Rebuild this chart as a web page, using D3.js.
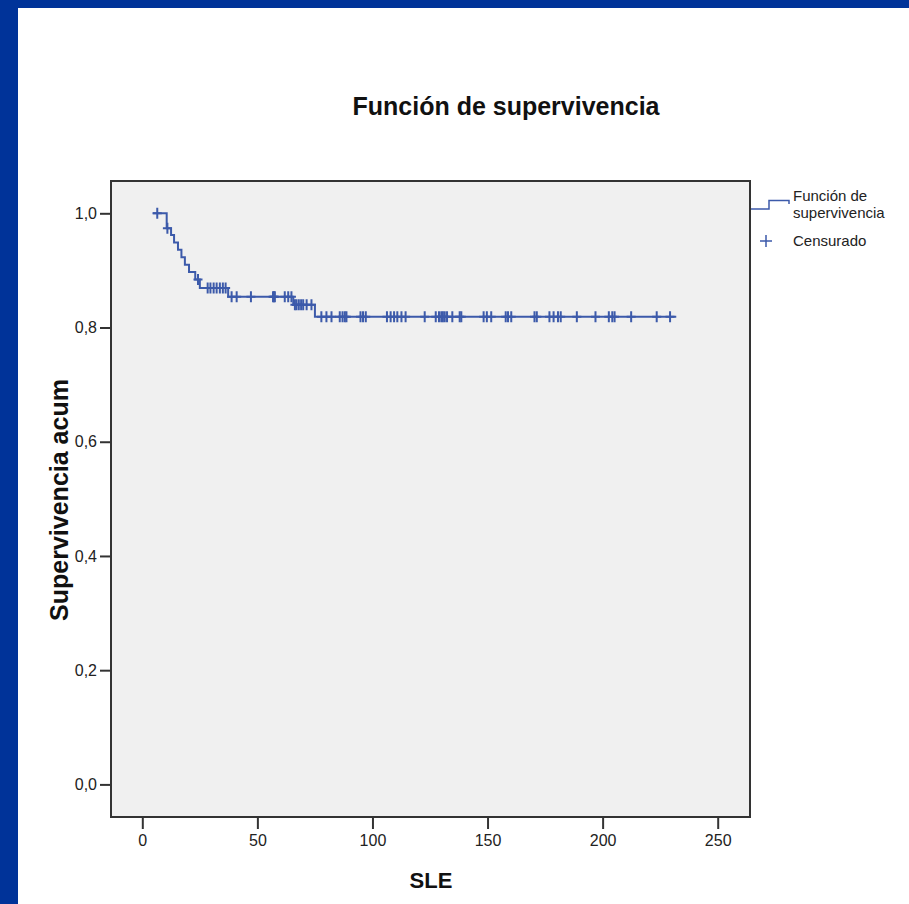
<!DOCTYPE html>
<html>
<head>
<meta charset="utf-8">
<script src="https://cdn.jsdelivr.net/npm/d3@7"></script>
<style>
  html, body { margin: 0; padding: 0; background: #fff; }
  svg { display: block; }
</style>
</head>
<body>
<svg width="909" height="904"></svg>
<script>
var width = 909;
var height = 904;

// ---------------------------------------------------------------------------
// data
// ---------------------------------------------------------------------------
var xTicks = [0, 50, 100, 150, 200, 250];
var yTicks = [0, 0.2, 0.4, 0.6, 0.8, 1.0];

var startTime = 4.5;
var endTime = 232;
var eventTime = [10.6, 12.5, 13.8, 15.5, 17.0, 18.5, 20.3, 23.0, 25.0, 37.3, 65.6, 75.0];
var eventSurv = [0.974, 0.962, 0.949, 0.936, 0.923, 0.910, 0.897, 0.884, 0.869, 0.854, 0.840, 0.819];
var censorTime = [6.5, 10.9, 24.2,
    28.4, 29.6, 31.0, 32.3, 33.7, 35.0, 36.2,
    38.8, 41.0, 47.2, 56.8, 57.2, 57.6, 61.9, 63.4, 64.8,
    66.3, 67.0, 68.0, 69.0, 69.9, 71.4, 73.5,
    77.8, 80.0, 82.2, 85.8, 87.0, 88.0, 88.7, 94.8, 95.9, 97.1,
    106.3, 107.9, 109.4, 110.8, 112.6, 114.4, 122.7, 127.5, 128.9, 129.9,
    130.6, 131.4, 132.4, 134.7, 137.9, 138.6, 148.3, 149.7, 151.6, 157.9,
    158.9, 160.3, 170.4, 171.4, 176.9, 178.7, 180.6, 181.8, 188.8, 196.9,
    202.7, 204.2, 205.2, 212.4, 223.5, 229.3];

var titleText = "Función de supervivencia";
var xLabel = "SLE";
var yLabel = "Supervivencia acum";
var legendLine = ["Función de", "supervivencia"];
var legendCensor = "Censurado";

var blue = "#3c5aaa";
var frame = { left: 111, right: 750, top: 181, bottom: 817 };
var font = "'Liberation Sans', Arial, sans-serif";

var svg = d3.select("svg");

// blue slide border
svg.append("rect").attr("x", 0).attr("y", 0).attr("width", width).attr("height", 8).attr("fill", "#003399");
svg.append("rect").attr("x", 0).attr("y", 0).attr("width", 18).attr("height", height).attr("fill", "#003399");

//----------------------------------------------------------------------------
// scales
//----------------------------------------------------------------------------
var x = d3.scaleLinear().domain([0, 250]).range([142.3, 717.7]);
var y = d3.scaleLinear().domain([0, 1]).range([784.4, 213.3]);

function survAt(t) {
    var i = d3.bisectRight(eventTime, t);
    return i === 0 ? 1 : eventSurv[i - 1];
}

// plot area
svg.append("rect")
    .attr("x", frame.left).attr("y", frame.top)
    .attr("width", frame.right - frame.left)
    .attr("height", frame.bottom - frame.top)
    .attr("fill", "#f0f0f0")
    .attr("stroke", "#333")
    .attr("stroke-width", 2);

// axes
var xAxis = d3.axisBottom(x).tickValues(xTicks).tickSize(11).tickSizeOuter(0).tickPadding(6)
    .tickFormat(d3.format("d"));
var gx = svg.append("g").attr("transform", "translate(0," + (frame.bottom + 1) + ")").call(xAxis);
gx.select(".domain").remove();

var yAxis = d3.axisLeft(y).tickValues(yTicks).tickSize(10).tickSizeOuter(0).tickPadding(3)
    .tickFormat(function(d) { return d3.format(".1f")(d).replace(".", ","); });
var gy = svg.append("g").attr("transform", "translate(" + (frame.left - 1) + ",0)").call(yAxis);
gy.select(".domain").remove();

[gx, gy].forEach(function(g) {
    g.selectAll("line").attr("stroke", "#333").attr("stroke-width", 2);
    g.selectAll("text").attr("fill", "#222")
        .style("font-family", font)
        .style("font-size", "16px");
});

//----------------------------------------------------------------------------
// survival curve
//----------------------------------------------------------------------------
var pts = [[startTime, 1]];
eventTime.forEach(function(t, i) { pts.push([t, eventSurv[i]]); });
pts.push([endTime, eventSurv[eventSurv.length - 1]]);

var line = d3.line()
    .x(function(d) { return x(d[0]); })
    .y(function(d) { return y(d[1]); })
    .curve(d3.curveStepAfter);

svg.append("path")
    .datum(pts)
    .attr("d", line)
    .attr("fill", "none")
    .attr("stroke", blue)
    .attr("stroke-width", 2);

svg.append("g").selectAll("path")
    .data(censorTime)
    .enter().append("path")
    .attr("transform", function(t) { return "translate(" + x(t) + "," + y(survAt(t)) + ")"; })
    .attr("d", "M-4.5,0H4.5M0,-5.5V5.5")
    .attr("stroke", blue)
    .attr("stroke-width", 2)
    .attr("fill", "none");

//----------------------------------------------------------------------------
// texts
//----------------------------------------------------------------------------
svg.append("text")
    .attr("x", 506).attr("y", 115)
    .attr("text-anchor", "middle")
    .style("font-family", font).style("font-size", "25px").style("font-weight", "bold")
    .attr("fill", "#111")
    .text(titleText);

svg.append("text")
    .attr("x", 431).attr("y", 888)
    .attr("text-anchor", "middle")
    .style("font-family", font).style("font-size", "22px").style("font-weight", "bold")
    .attr("fill", "#111")
    .text(xLabel);

svg.append("text")
    .attr("transform", "translate(68,500) rotate(-90)")
    .attr("text-anchor", "middle")
    .style("font-family", font).style("font-size", "25px").style("font-weight", "bold")
    .attr("fill", "#111")
    .text(yLabel);

// legend
svg.append("path")
    .attr("d", "M751,209H769V200.5H789V204")
    .attr("fill", "none").attr("stroke", blue).attr("stroke-width", 1.5);

svg.append("text")
    .attr("x", 793).attr("y", 201)
    .style("font-family", font).style("font-size", "15px").attr("fill", "#222")
    .selectAll("tspan").data(legendLine).enter().append("tspan")
    .attr("x", 793).attr("dy", function(d, i) { return i ? 17 : 0; })
    .text(function(d) { return d; });

svg.append("path")
    .attr("transform", "translate(766,241)")
    .attr("d", "M-6,0H6M0,-6V6")
    .attr("stroke", blue).attr("stroke-width", 1.5);

svg.append("text")
    .attr("x", 793).attr("y", 246)
    .style("font-family", font).style("font-size", "15px").attr("fill", "#222")
    .text(legendCensor);
</script>
</body>
</html>
